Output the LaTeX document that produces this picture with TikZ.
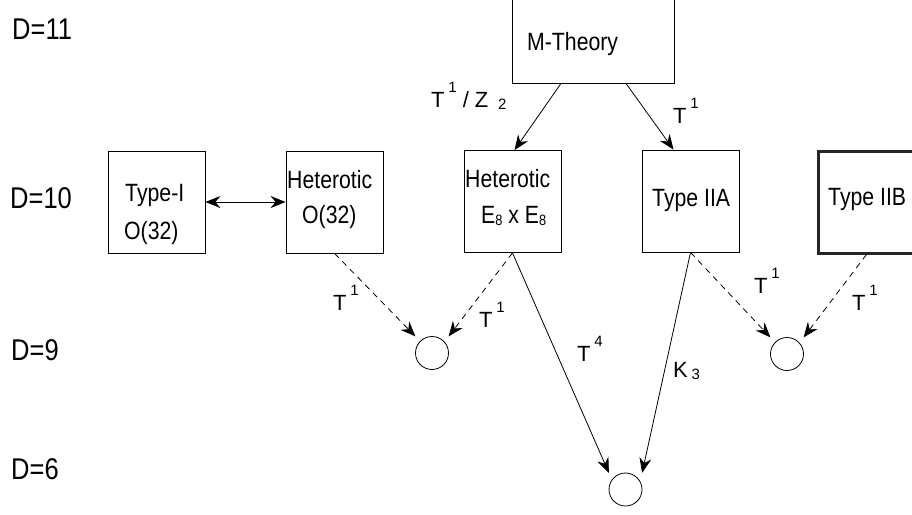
\documentclass[tikz,border=0pt]{standalone}
\usepackage{fontspec}
\setmainfont[FakeStretch=0.85]{Liberation Sans}
\newfontfamily\lblfont{Liberation Sans}
\usetikzlibrary{arrows.meta}

\newcommand{\tsup}[1]{\,\raisebox{15pt}{\fontsize{15}{15}\selectfont #1}}
\newcommand{\tsub}[1]{\raisebox{-2pt}{\fontsize{15}{15}\selectfont #1}}

\tikzset{
  >={Stealth[length=15pt,width=12pt,inset=5pt]},
  theory/.style={draw, line width=0.8pt, minimum width=97pt, minimum height=102pt, inner sep=0pt},
  vac/.style={draw, circle, line width=0.8pt, minimum size=33pt, inner sep=0pt, outer sep=7pt},
  dimlbl/.style={anchor=base west, inner sep=0pt, font=\fontsize{30}{32}\selectfont},
  txt/.style={anchor=base west, inner sep=0pt, font=\fontsize{25}{27}\selectfont},
  lbl/.style={anchor=base west, inner sep=0pt, font=\lblfont\fontsize{22}{24}\selectfont},
  maparrow/.style={->, line width=0.8pt},
  dualarrow/.style={maparrow, dash pattern=on 6pt off 5pt},
}

\begin{document}
\begin{tikzpicture}[x=1pt, y=-1pt]
    \useasboundingbox (0,0) rectangle (912,514);
    % dimensions
    \node[dimlbl] (d11) at (12,39)  {D=11};
    \node[dimlbl] (d10) at (10,208) {D=10};
    \node[dimlbl] (d9)  at (11,360) {D=9};
    \node[dimlbl] (d6)  at (11,479) {D=6};
    %
    \node[theory, minimum width=162pt, minimum height=96pt] (mth) at (593,35) {};
    \node[txt] (mtxt) at (527,50) {M-Theory};
    %
    \node[theory] (typei) at (156.5,202) {};
    \node[txt] (typeitxt) at (125,201) {Type-I};
    \node[txt] (typeigrp) at (124,239) {O(32)};
    \node[theory] (hso) at (334.5,202) {};
    \node[txt] (hsotxt) at (287,188) {Heterotic};
    \node[txt] (hsogrp) at (302,223) {O(32)};
    \node[theory] (e8) at (512.5,201.5) {};
    \node[txt] (e8txt) at (465,187) {Heterotic};
    \node[txt] (e8grp) at (481,223) {E\tsub{8} x E\tsub{8}};
    \node[theory] (iia) at (690.5,201) {};
    \node[txt] (iiatxt) at (652,206) {Type IIA};
    \node[theory, line width=3pt, draw=black!85] (iib) at (866.5,202) {};
    \node[txt] (iibtxt) at (828,205) {Type IIB};
    %
    \node[vac] (c9l) at (432,353) {};
    \node[vac] (c9r) at (787,354) {};
    \node[vac] (c6)  at (625.5,489.5) {};
    % arrows
    \draw[maparrow] ([xshift=-32pt]mth.south) -- ([xshift=2pt]e8.north);
    \draw[maparrow] ([xshift=33pt]mth.south) -- ([xshift=-17pt]iia.north);
    \draw[<->, line width=0.8pt] (typei.east) -- (hso.west);
    \draw[dualarrow] (hso.south) -- (c9l.north west);
    \draw[dualarrow] (e8.south) -- (c9l.north east);
    \draw[maparrow] (e8.south) -- (c6.north west);
    \draw[maparrow] (iia.south) -- (c6.north east);
    \draw[dualarrow] (iia.south) -- (c9r.north west);
    \draw[dualarrow] (iib.south) -- (c9r.north east);
    % labels
    \node[lbl] (lz2)  at (431,107) {T\tsup{1} / Z \,\tsub{2}};
    \node[lbl] (lt1m) at (673,123) {T\tsup{1}};
    \node[lbl] (lt1a) at (333,310) {T\tsup{1}};
    \node[lbl] (lt1b) at (479,327) {T\tsup{1}};
    \node[lbl] (lt4)  at (577,361) {T\tsup{4}};
    \node[lbl] (lk3)  at (673,377) {K\,\tsub{3}};
    \node[lbl] (lt1c) at (754,293) {T\tsup{1}};
    \node[lbl] (lt1d) at (852,310) {T\tsup{1}};
\end{tikzpicture}
\end{document}
